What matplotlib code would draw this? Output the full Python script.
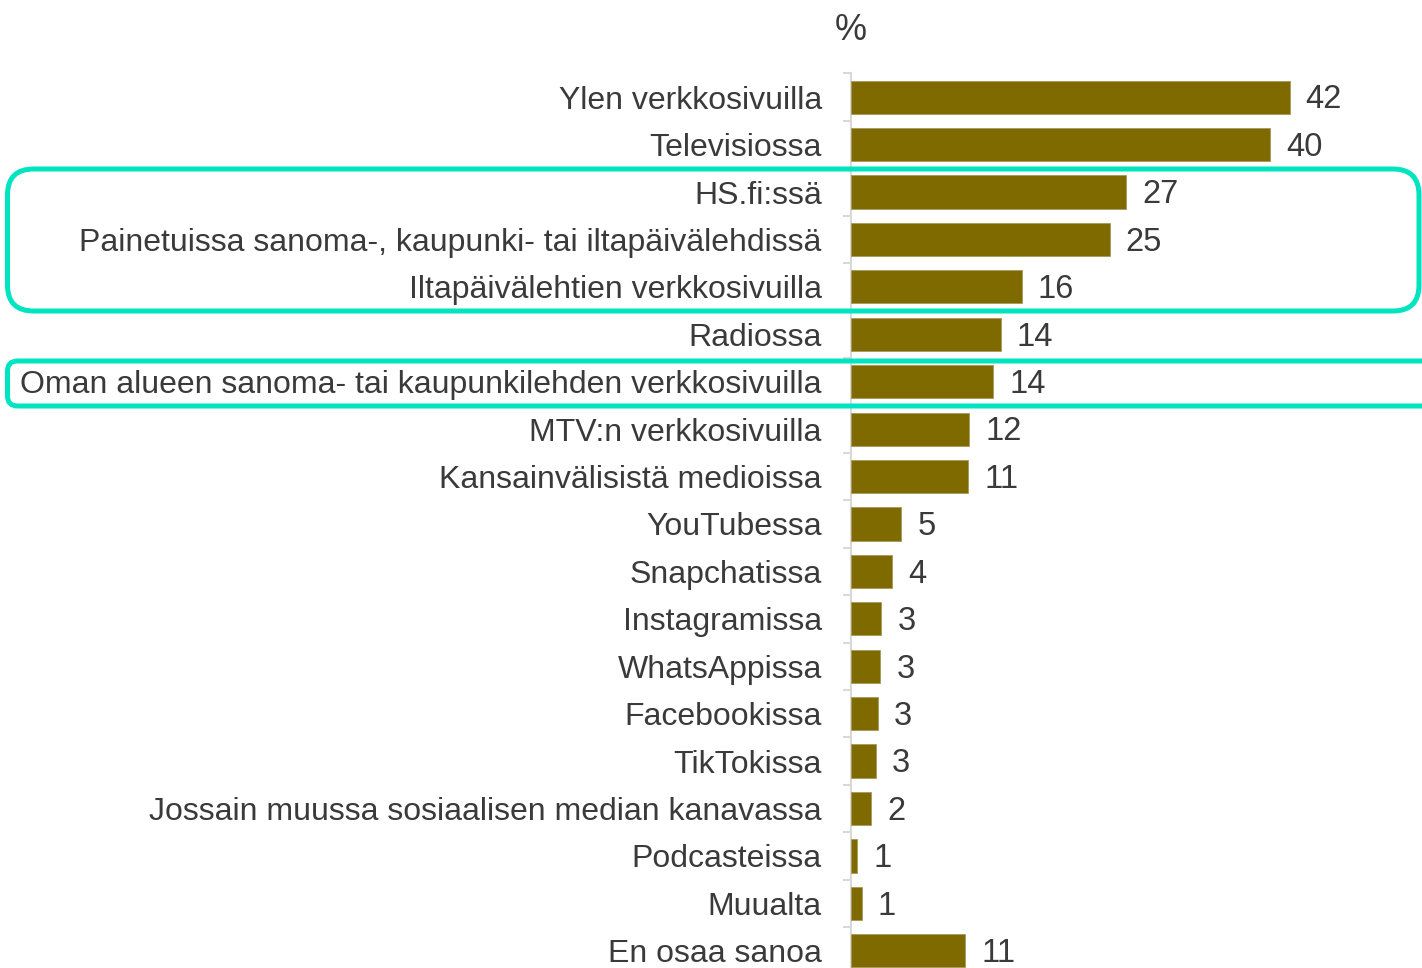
import numpy as np
import matplotlib
matplotlib.use("Agg")
import matplotlib.pyplot as plt
from matplotlib.patches import FancyBboxPatch
from matplotlib.transforms import Affine2D

# data (bar lengths estimated, labels as printed)
categories = [
    "Ylen verkkosivuilla",
    "Televisiossa",
    "HS.fi:ssä",
    "Painetuissa sanoma-, kaupunki- tai iltapäivälehdissä",
    "Iltapäivälehtien verkkosivuilla",
    "Radiossa",
    "Oman alueen sanoma- tai kaupunkilehden verkkosivuilla",
    "MTV:n verkkosivuilla",
    "Kansainvälisistä medioissa",
    "YouTubessa",
    "Snapchatissa",
    "Instagramissa",
    "WhatsAppissa",
    "Facebookissa",
    "TikTokissa",
    "Jossain muussa sosiaalisen median kanavassa",
    "Podcasteissa",
    "Muualta",
    "En osaa sanoa",
]
values = [41.9, 40.0, 26.3, 24.7, 16.3, 14.3, 13.6, 11.3, 11.2, 4.8, 3.9,
          2.9, 2.8, 2.6, 2.4, 1.9, 0.6, 1.05, 10.9]
value_labels = ["42", "40", "27", "25", "16", "14", "14", "12", "11", "5", "4",
                "3", "3", "3", "3", "2", "1", "1", "11"]

bar_color = "#7f6a00"
text_color = "#3a3a3a"
box_color = "#00e5bf"

W, H = 1422, 968
plt.rcParams['font.family'] = ['Liberation Sans', 'DejaVu Sans']

fig = plt.figure(figsize=(W / 100, H / 100), dpi=100)

# axes placed in pixel terms: spine at x=851, first slot top at y=73.5
pitch = 47.42
n = len(categories)
left_px, top_px = 851, 73.5
bottom_px = top_px + n * pitch
ax = fig.add_axes([left_px / W, (H - bottom_px) / H, (W - left_px) / W, (bottom_px - top_px) / H])

y = np.arange(n)
ax.barh(y, values, height=0.70, color=bar_color, edgecolor="#a8985a", linewidth=0.6, zorder=3)
ax.set_ylim(n - 0.5, -0.5)
ax.set_xlim(0, (W - left_px) / 10.47)

for yi, v, lab in zip(y, values, value_labels):
    ax.annotate(lab, (v, yi), xytext=(16 * 0.72, -2), textcoords="offset points",
                ha="left", va="center", fontsize=23.5, color=text_color)

ax.set_yticks(y)
ax.set_yticklabels(categories, fontsize=23, color=text_color)
ax.tick_params(axis="y", which="major", length=0, pad=21)
ax.set_yticks(np.arange(n + 1) - 0.5, minor=True)
ax.tick_params(axis="y", which="minor", length=6, width=1.5, color="#d9d9d9")
ax.set_xticks([])
for s in ["top", "right", "bottom"]:
    ax.spines[s].set_visible(False)
ax.spines["left"].set_color("#d9d9d9")
ax.spines["left"].set_linewidth(1.5)

fig.text(851 / W, 1 - 30 / H, "%", ha="center", va="center", fontsize=26, color=text_color)

# highlight boxes, given in image pixels (origin top-left)
px = Affine2D().scale(1 / 100) + fig.dpi_scale_trans


def add_box(x0, y0, x1, y1, r):
    box = FancyBboxPatch((x0, H - y1), x1 - x0, y1 - y0,
                         boxstyle=f"round,pad=0,rounding_size={r}",
                         transform=px, fill=False, edgecolor=box_color,
                         linewidth=3.6, zorder=10)
    fig.patches.append(box)


add_box(7.5, 169, 1419, 311, 26)
add_box(7.5, 361, 1460, 406, 10)

fig.savefig("out.png", dpi=100)
